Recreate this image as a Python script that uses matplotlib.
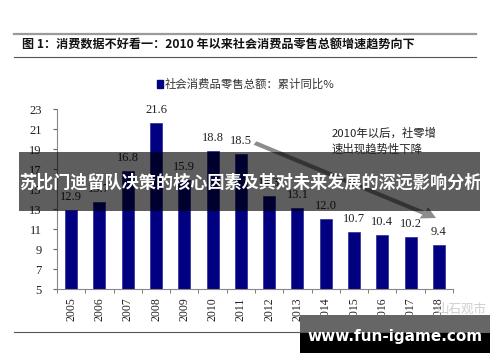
import matplotlib.pyplot as plt
import numpy as np
from matplotlib.patches import Rectangle, FancyArrow
from matplotlib.lines import Line2D

plt.rcParams['font.family'] = ['Noto Sans CJK SC', 'DejaVu Sans']

# data
years = ['2005', '2006', '2007', '2008', '2009', '2010', '2011',
         '2012', '2013', '2014', '2015', '2016', '2017', '2018']
growth = [12.9, 13.7, 16.8, 21.6, 15.9, 18.8, 18.5,
          14.3, 13.1, 12.0, 10.7, 10.4, 10.2, 9.4]
y_ticks = [5, 7, 9, 11, 13, 15, 17, 19, 21, 23]

title = '图 1：消费数据不好看一：2010 年以来社会消费品零售总额增速趋势向下'
legend_label = '社会消费品零售总额：累计同比%'
note = '2010年以后，社零增\n速出现趋势性下降'
banner = '苏比门迪留队决策的核心因素及其对未来发展的深远影响分析'
site = 'www.fun-igame.com'

W, H = 500, 362
fig = plt.figure(figsize=(5, 3.62), dpi=100)
fig.patch.set_facecolor('white')

def fx(px):
    return px / W

def fy(py):
    return 1 - py / H

ax = fig.add_axes([fx(57), fy(289), fx(453) - fx(57), fy(109) - fy(289)])
x = np.arange(len(years))
ax.bar(x, growth, width=0.42, color='#000080', edgecolor='#2a2a9a', linewidth=0.5)
ax.set_ylim(5, 23)
ax.set_xlim(-0.5, len(years) - 0.5)
ax.set_yticks(y_ticks)
ax.set_yticklabels([str(v) for v in y_ticks], family='Liberation Serif', fontsize=9, color='#222222')
ax.set_xticks(x)
ax.set_xticklabels(years, rotation=90, family='Liberation Serif', fontsize=8.5, color='#222222')
ax.set_xticks(np.arange(-0.5, len(years)), minor=True)
ax.tick_params(axis='x', which='major', length=0, pad=6)
ax.tick_params(axis='x', which='minor', length=3, color='#666666', direction='out')
ax.tick_params(axis='y', length=3, color='#666666', direction='out', pad=8)
for s in ['top', 'right']:
    ax.spines[s].set_visible(False)
for s in ['left', 'bottom']:
    ax.spines[s].set_color('#888888')
    ax.spines[s].set_linewidth(0.8)

for xi, v in zip(x, growth):
    ax.text(xi, v + 0.7, f'{v:.1f}', ha='center', va='bottom',
            family='Liberation Serif', fontsize=9, color='#222222')

# header lines and title
fig.add_artist(Line2D([fx(14), fx(476)], [fy(34), fy(34)], color='#9a9a9a', lw=1.6))
fig.add_artist(Line2D([fx(14), fx(476)], [fy(57), fy(57)], color='#555555', lw=0.8))
fig.add_artist(Line2D([fx(14), fx(476)], [fy(332), fy(332)], color='#555555', lw=0.8))
fig.text(fx(22), fy(45.5), title, ha='left', va='center', fontsize=8.7,
         weight='bold', color='#111111')

# legend
fig.add_artist(Rectangle((fx(157), fy(88)), fx(6), fy(80) - fy(88), color='#000080'))
fig.text(fx(165), fy(84), legend_label, ha='left', va='center', fontsize=8.2,
         color='#333333')

# trend arrow and note
fig.add_artist(FancyArrow(fx(255), fy(143), fx(436) - fx(255), fy(218) - fy(143),
                          width=0.011, head_width=0.035, head_length=0.028,
                          length_includes_head=True, color='#8c8c8c', lw=0))
fig.text(fx(332), fy(141), note, ha='left', va='center', fontsize=8.2,
         color='#222222', linespacing=1.4)

# overlay banner
fig.add_artist(Rectangle((fx(19), fy(211)), fx(480) - fx(19), fy(152) - fy(211),
                         color='black', alpha=0.63, lw=0))
fig.text(fx(250), fy(183), banner, ha='center', va='center', fontsize=12.3,
         weight='bold', color='white')

# watermark box
fig.text(fx(462), fy(309), '山石观市', ha='center', va='center', fontsize=9,
         color='#cfcfcf')
fig.add_artist(Rectangle((fx(300), fy(333)), fx(190), fy(315) - fy(333),
                         color='#666666', lw=0))
fig.add_artist(Rectangle((fx(300), fy(353)), fx(190), fy(333) - fy(353),
                         color='black', lw=0))
fig.text(fx(395), fy(337), site, ha='center', va='center', fontsize=11,
         weight='bold', color='white', family='DejaVu Sans')

fig.savefig('out.png', dpi=100)
